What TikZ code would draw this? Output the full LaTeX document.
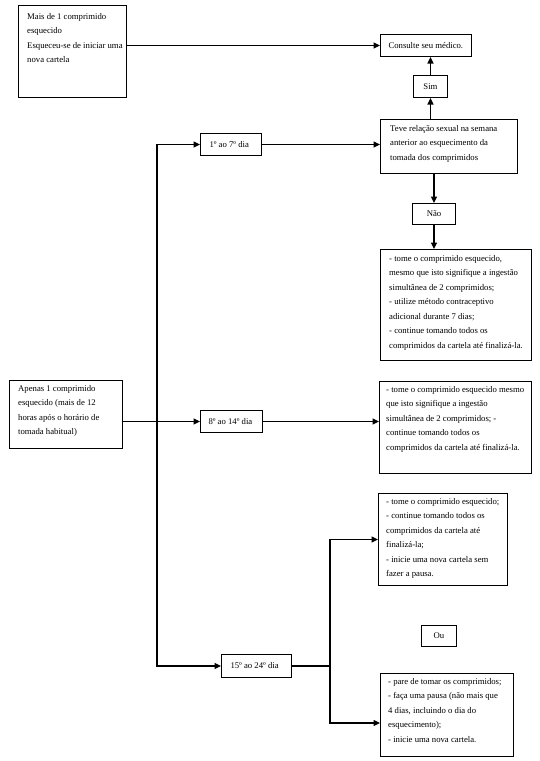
\documentclass[tikz,border=0pt]{standalone}
\usepackage{fontspec}
\setmainfont{Liberation Serif}
\usetikzlibrary{arrows.meta}
\newcommand\fs{\fontsize{8.7}{14.5}\selectfont}
\newcommand\lns[1]{\begin{tabular}{@{}l@{}}#1\end{tabular}}
\begin{document}
\begin{tikzpicture}[x=1pt,y=-1pt,
  box/.style={draw, line width=1pt, anchor=north west, inner sep=0pt, font=\fs},
  sz/.style 2 args={minimum width=#1pt, minimum height=#2pt},
  txt/.style={anchor=north west, inner sep=0pt, font=\fs},
  arr/.style={-{Triangle[length=6.5pt,width=6pt]}, line width=1.1pt},
  darr/.style={{Triangle[length=6.5pt,width=6pt]}-{Triangle[length=6.5pt,width=6pt]}, line width=1.1pt}]
\useasboundingbox[fill=white] (0,0) rectangle (539,761);

% top-left box
\node[box, sz={108}{92}] (b1) at (18,5) {};
\node[txt] (b1t) at ([xshift=9pt,yshift=-4pt]b1.north west) {\lns{Mais de 1 comprimido\\esquecido\\Esqueceu-se de iniciar uma\\nova cartela}};

% right column top
\node[box, sz={91}{22}] (cons) at (380,34) {\makebox[91pt][l]{\hspace{8pt}Consulte seu médico.}};
\node[box, sz={34}{22}] (sim) at (413,75) {Sim};
\node[box, sz={137}{54}] (teve) at (380,119) {};
\node[txt] (tevet) at ([xshift=10pt,yshift=-2pt]teve.north west) {\lns{Teve relação sexual na semana\\anterior ao esquecimento da\\tomada dos comprimidos}};
\node[box, sz={43}{21}] (nao) at (412,203) {Não};
\node[box, sz={151}{111}] (t1) at (380,249) {};
\node[txt] (t1t) at ([xshift=9pt,yshift=-2pt]t1.north west) {\lns{- tome o comprimido esquecido,\\mesmo que isto signifique a ingestão\\simultânea de 2 comprimidos;\\- utilize método contraceptivo\\adicional durante 7 dias;\\- continue tomando todos os\\comprimidos da cartela até finalizá-la.}};

% day boxes
\node[box, sz={61}{22}] (d1) at (200,133) {\makebox[61pt][l]{\hspace{9pt}1º ao 7º dia}};
\node[box, sz={62}{22}] (d8) at (200,410) {\makebox[62pt][l]{\hspace{8pt}8º ao 14º dia}};
\node[box, sz={70}{23}] (d15) at (221,654) {\makebox[70pt][l]{\hspace{9pt}15º ao 24º dia}};

% left box
\node[box, sz={113}{68}] (ap) at (9,380) {};
\node[txt] (apt) at ([xshift=9pt,yshift=-1pt]ap.north west) {\lns{Apenas 1 comprimido\\esquecido (mais de 12\\horas após o horário de\\tomada habitual)}};

% right column lower
\node[box, sz={152}{92}] (t2) at (379,381) {};
\node[txt] (t2t) at ([xshift=7pt,yshift=-1pt]t2.north west) {\lns{- tome o comprimido esquecido mesmo\\que isto signifique a ingestão\\simultânea de 2 comprimidos; -\\continue tomando todos os\\comprimidos da cartela até finalizá-la.}};
\node[box, sz={129}{92}] (t3) at (378,493) {};
\node[txt] (t3t) at ([xshift=8pt,yshift=-1pt]t3.north west) {\lns{- tome o comprimido esquecido;\\- continue tomando todos os\\comprimidos da cartela até\\finalizá-la;\\- inicie uma nova cartela sem\\fazer a pausa.}};
\node[box, sz={35}{21}] (ou) at (421,625) {Ou};
\node[box, sz={133}{83}] (pa) at (380,673) {};
\node[txt] (pat) at ([xshift=8pt,yshift=-1pt]pa.north west) {\lns{- pare de tomar os comprimidos;\\- faça uma pausa (não mais que\\4 dias, incluindo o dia do\\esquecimento);\\- inicie uma nova cartela.}};

% helper coordinates
\coordinate (tx) at (157,0);
\coordinate (bx) at (330,0);
\coordinate (pin) at ([yshift=-8pt]pa.west);

% connectors
\draw[arr] (b1.east |- cons.west) -- (cons.west);
\draw[arr] (sim.south |- teve.north) -- (sim.south);
\draw[arr] (sim.north) -- (sim.north |- cons.south);
\draw[arr] (nao.north |- teve.south) -- (nao.north);
\draw[arr] (nao.south) -- (nao.south |- t1.north);
\draw[arr] (d1.east) -- (d1.east -| teve.west);
\draw[darr] (d1.west) -- (tx |- d1.west) -- (tx |- d15.west) -- (d15.west);
\draw[arr] (ap.east |- d8.west) -- (d8.west);
\draw[arr] (d8.east) -- (d8.east -| t2.west);
\draw[line width=1.1pt] (d15.east) -- (bx |- d15.east);
\draw[darr] (t3.west) -- (bx |- t3.west) -- (bx |- pin) -- (pin);
\end{tikzpicture}
\end{document}
